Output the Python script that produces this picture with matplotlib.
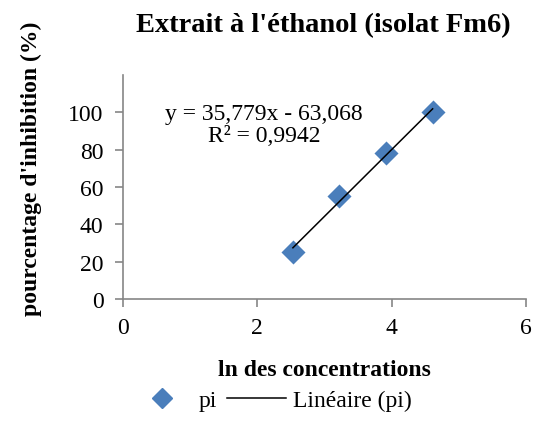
import numpy as np
import matplotlib
matplotlib.use("Agg")
import matplotlib.pyplot as plt
from matplotlib.lines import Line2D

plt.rcParams['font.family'] = ['Liberation Serif', 'DejaVu Serif']

# ln of concentrations and inhibition percentages
ln_conc = [2.53, 3.22, 3.91, 4.61]
inhibition = [25, 55, 78, 100]
x_ticks = [0, 2, 4, 6]
y_ticks = [0, 20, 40, 60, 80, 100]

slope, intercept = 35.779, -63.068
eq_text = "y = 35,779x - 63,068\nR² = 0,9942"

fig = plt.figure(figsize=(5.34, 4.35), dpi=100)
ax = fig.add_axes([0.2303, 0.3103, 0.7547, 0.515])

blue = '#4a7ebb'
ax.scatter(ln_conc, inhibition, marker='D', s=150, color=blue, zorder=3, linewidths=0)
xf = np.array([min(ln_conc), max(ln_conc)])
ax.plot(xf, slope * xf + intercept, color='black', lw=1.1, zorder=4)

ax.set_xlim(0, 6)
ax.set_ylim(0, 120)
ax.set_xticks(x_ticks)
ax.set_yticks(y_ticks)
for s in ['top', 'right']:
    ax.spines[s].set_visible(False)
for s in ['left', 'bottom']:
    ax.spines[s].set_color('#868686')
    ax.spines[s].set_linewidth(1.2)
ax.tick_params(axis='both', direction='out', length=6, width=1.2, color='#868686',
               labelsize=17)
ax.tick_params(axis='y', pad=8)
ax.tick_params(axis='x', pad=7)

ax.text(2.1, 93.5, eq_text, ha='center', va='center', fontsize=17, linespacing=1.12)

ax.set_xlabel("ln des concentrations", fontsize=17, fontweight='bold', labelpad=15)
ax.set_ylabel("pourcentage d'inhibition (%)", fontsize=17, fontweight='bold')
ax.yaxis.set_label_coords(-0.201, 0.585)
fig.text(0.605, 0.942, "Extrait à l'éthanol (isolat Fm6)", ha='center', va='center',
         fontsize=20.5, fontweight='bold')

handles = [Line2D([], [], marker='D', color=blue, ls='none', markersize=10),
           Line2D([], [], color='black', lw=1.1)]
fig.legend(handles, ['pi', 'Linéaire (pi)'], loc='center', bbox_to_anchor=(0.51, 0.078),
           ncol=2, frameon=False, fontsize=17, handlelength=2.5, columnspacing=0.4,
           handletextpad=0.3)

fig.savefig("out.png", dpi=100)
